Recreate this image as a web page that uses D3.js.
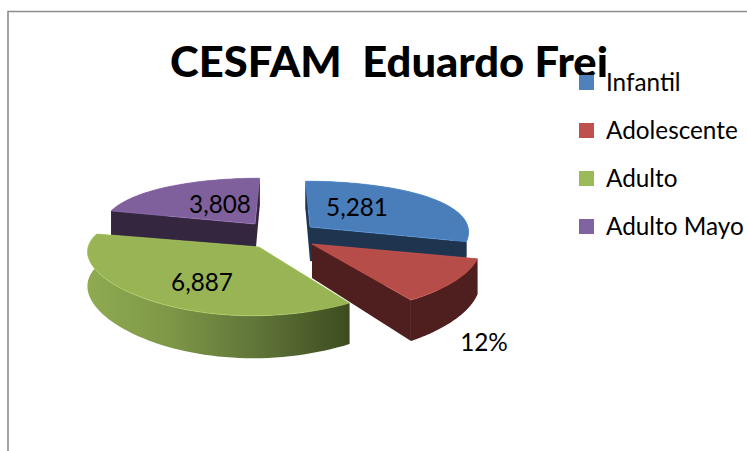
<!DOCTYPE html>
<html><head><meta charset="utf-8">
<script src="https://cdnjs.cloudflare.com/ajax/libs/d3/7.8.5/d3.min.js"></script>
<style>html,body{margin:0;padding:0;background:#fff}svg{display:block}text{font-family:Lato,"Open Sans",sans-serif;fill:#000}</style>
</head><body>
<svg id="c" width="747" height="451"></svg>
<script>
const categories = ["Infantil","Adolescente","Adulto","Adulto Mayo"];
const values = [5281,2178,6887,3808];
const labels = ["5,281","12%","6,887","3,808"];
const title = "CESFAM  Eduardo Frei";

const topColors = ["#4a7ebb","#b64d49","#98b455","#7f609c"];
const legendColors = ["#4f81bd","#c0504d","#9bbb59","#8064a2"];
const wallColors = ["#1f344f","#4f1f1f","url(#gw)","#35263f"];

// layout
const apex = [[310,227],[312,244],[259,247],[255,224]];
const labelPos = [[357,207],[484,342],[202,282],[220,204]];
const rx = [158,167,171,152];
const ry = 55, persp = 0.2, perspX = 0.055, depth = 34, vanishX = 283;

const svg = d3.select("#c");
const defs = svg.append("defs");
const gw = defs.append("linearGradient").attr("id","gw").attr("gradientUnits","userSpaceOnUse")
  .attr("x1",87).attr("x2",350).attr("y1",0).attr("y2",0);
[[0,"#8fab50"],[0.3,"#7f9848"],[0.65,"#5f7438"],[1,"#3d4c1f"]].forEach(s=>gw.append("stop").attr("offset",s[0]).attr("stop-color",s[1]));

// frame
svg.append("path").attr("d","M8,451V11.5H747").attr("fill","none").attr("stroke","#8c8c8c").attr("stroke-width",1.6);

const pie = d3.pie().sort(null).value(d=>d);
const arcs = pie(values);
const line = d3.line();

function project(i,theta,r,z){
  const Y = -Math.cos(theta)*r, s = 1/(1-persp*Y), sx = 1/(1-perspX*Y);
  return [apex[i][0]+rx[i]*Math.sin(theta)*r*sx+(apex[i][0]-vanishX)*(s-1), apex[i][1]+ry*Y*s+z*s];
}
function arcPts(i,a,z){
  const n=60; return d3.range(n+1).map(k=>project(i,a.startAngle+(a.endAngle-a.startAngle)*k/n,1,z));
}
const order=[3,0,1,2];
order.forEach(i=>{
  const a=arcs[i], g=svg.append("g");
  const c0=project(i,0,0,0), c1=project(i,0,0,depth);
  const top=arcPts(i,a,0), bot=arcPts(i,a,depth);
  const wall = wallColors[i];
  // radial faces
  [top[0],top[top.length-1]].forEach((p,k)=>{
    const q = k? bot[bot.length-1]:bot[0];
    g.append("path").attr("d",line([c0,p,q,c1])+"Z").attr("fill",i===2?"#4d5f2b":wall);
  });
  // rim
  g.append("path").attr("d",line(top.concat(bot.slice().reverse()))+"Z").attr("fill",wall);
  // top surface
  g.append("path").attr("d",line([c0].concat(top))+"Z").attr("fill",topColors[i])
    .attr("stroke",d3.color(topColors[i]).brighter(0.5)).attr("stroke-width",0.6);
});

categories.forEach((c,i)=>{
  svg.append("text").attr("x",labelPos[i][0]).attr("y",labelPos[i][1]+8.5).attr("text-anchor","middle")
    .attr("font-size",24.3).text(labels[i]);
});

svg.append("text").attr("x",389).attr("y",77).attr("text-anchor","middle").attr("font-size",42)
  .attr("font-weight",900).attr("textLength",438).attr("lengthAdjust","spacingAndGlyphs").style("white-space","pre").text(title);

const yLeg=d3.scalePoint().domain(categories).range([83,227]);
categories.forEach((c,i)=>{
  const y=yLeg(c);
  svg.append("rect").attr("x",579).attr("y",y-8).attr("width",15).attr("height",15).attr("fill",legendColors[i]);
  svg.append("text").attr("x",606).attr("y",y+8).attr("font-size",24.3).text(c);
});
</script>
</body></html>
